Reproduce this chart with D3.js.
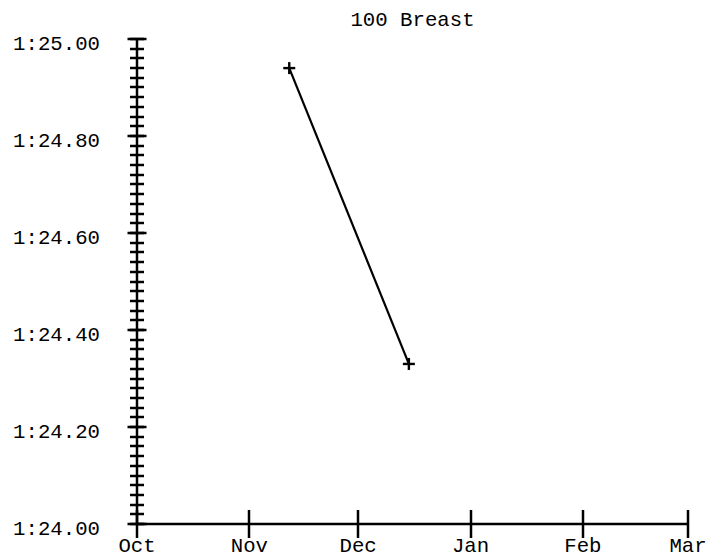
<!DOCTYPE html>
<html><head><meta charset="utf-8">
<script src="https://cdn.jsdelivr.net/npm/d3@7"></script>
<style>body{margin:0;background:#fff}svg{display:block}text{font-family:"Liberation Mono","Courier New",monospace;fill:#000}</style>
</head><body><svg id="c" width="709" height="558"></svg>
<script>
const title = "100 Breast";
const dates = ["2011-11-12", "2011-12-15"];
const times = [84.94, 84.33]; // seconds
const xTickDates = ["2011-10-01","2011-11-01","2011-12-01","2012-01-01","2012-02-01","2012-03-01"];
const xTickLabels = ["Oct","Nov","Dec","Jan","Feb","Mar"];
const yMajor = [84.0, 84.2, 84.4, 84.6, 84.8, 85.0];
const yMinor = d3.range(0, 51).map(i => 84 + i * 0.02);

const parse = d3.timeParse("%Y-%m-%d");
const svg = d3.select("#c");
const x = d3.scaleTime().domain([parse(xTickDates[0]), parse(xTickDates[xTickDates.length-1])]).range([137, 688]);
const y = d3.scaleLinear().domain([84, 85]).range([524, 39]);
const fmt = v => { const m = Math.floor(v/60); return m + ":" + (v - m*60).toFixed(2).padStart(5, "0"); };

svg.append("text").attr("x", (x.range()[0]+x.range()[1])/2).attr("y", 26).attr("text-anchor","middle").attr("font-size", 20.7).text(title);

const g = svg.append("g").attr("stroke","#000").attr("stroke-width",2.5).attr("fill","none");
g.append("line").attr("x1",137).attr("x2",137).attr("y1",y(85)).attr("y2",y(84));
g.selectAll(".ym").data(yMinor).join("line").attr("x1",130).attr("x2",144)
  .attr("y1",d=>Math.round(y(d))).attr("y2",d=>Math.round(y(d)));
g.selectAll(".yM").data(yMajor).join("line").attr("x1",127.5).attr("x2",146.5)
  .attr("y1",d=>Math.round(y(d))).attr("y2",d=>Math.round(y(d)));
g.append("line").attr("x1",137).attr("x2",688).attr("y1",524).attr("y2",524);
g.selectAll(".xM").data(xTickDates).join("line").attr("x1",d=>Math.round(x(parse(d)))).attr("x2",d=>Math.round(x(parse(d))))
  .attr("y1",510).attr("y2",538);

svg.selectAll(".yl").data(yMajor).join("text").attr("x",100).attr("y",d=>y(d)+11).attr("text-anchor","end")
  .attr("font-size",20.7).text(fmt);
svg.selectAll(".xl").data(xTickDates).join("text").attr("x",d=>x(parse(d))).attr("y",552).attr("text-anchor","middle")
  .attr("font-size",20.7).text((d,i)=>xTickLabels[i]);

const pts = dates.map((d,i)=>[x(parse(d)), y(times[i])]);
svg.append("path").attr("d", d3.line()(pts)).attr("stroke","#000").attr("stroke-width",2.2).attr("fill","none");
const mk = svg.append("g").attr("stroke","#000").attr("stroke-width",2.4);
pts.forEach(p=>{
  mk.append("line").attr("x1",p[0]-6).attr("x2",p[0]+6).attr("y1",p[1]).attr("y2",p[1]);
  mk.append("line").attr("x1",p[0]).attr("x2",p[0]).attr("y1",p[1]-6).attr("y2",p[1]+6);
});
</script></body></html>
